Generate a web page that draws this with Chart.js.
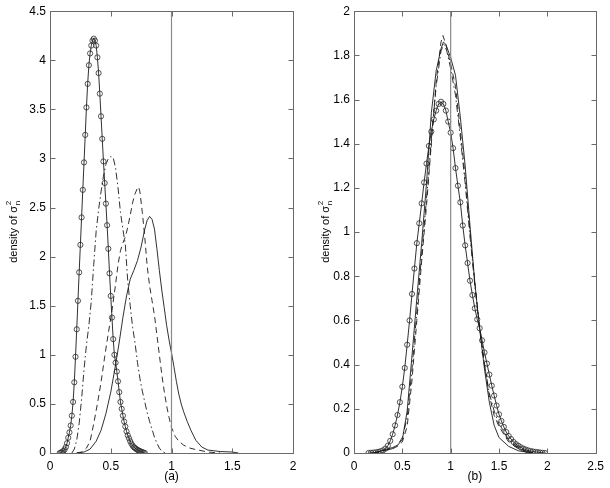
<!DOCTYPE html>
<html>
<head>
<meta charset="utf-8">
<script src="https://cdn.jsdelivr.net/npm/chart.js@4.4.1/dist/chart.umd.min.js"></script>
<style>
html, body { margin: 0; padding: 0; background: #fff; }
#wrap { position: relative; width: 610px; height: 488px; }
.panel { position: absolute; top: 0; width: 305px; height: 488px; }
</style>
</head>
<body>
<div id="wrap">
  <div class="panel" style="left:0"><canvas id="chartA" width="305" height="488"></canvas></div>
  <div class="panel" style="left:305px"><canvas id="chartB" width="305" height="488"></canvas></div>
</div>
<script>
// ---- PANEL (a) DATA ----
var aCircX = [
  0.08, 0.09, 0.10, 0.11, 0.12, 0.13, 0.14, 0.15, 0.16, 0.17,
  0.18, 0.19, 0.20, 0.21, 0.22, 0.23, 0.24, 0.25, 0.26, 0.27,
  0.28, 0.29, 0.30, 0.31, 0.32, 0.33, 0.34, 0.35, 0.36, 0.37,
  0.38, 0.39, 0.40, 0.41, 0.42, 0.43, 0.44, 0.45, 0.46, 0.47,
  0.48, 0.49, 0.50, 0.51, 0.52, 0.53, 0.54, 0.55, 0.56, 0.57,
  0.58, 0.59, 0.60, 0.61, 0.62, 0.63, 0.64, 0.65, 0.66, 0.67,
  0.68, 0.69, 0.70, 0.71, 0.72, 0.73, 0.74, 0.75, 0.76, 0.77,
  0.78
];
var aCircY = [
  0, 0.004, 0.01, 0.02, 0.035, 0.06, 0.1, 0.155, 0.21, 0.28,
  0.38, 0.52, 0.72, 0.98, 1.26, 1.55, 1.84, 2.12, 2.4, 2.68,
  2.96, 3.24, 3.52, 3.76, 3.95, 4.07, 4.15, 4.2, 4.22, 4.2,
  4.15, 4.03, 3.87, 3.66, 3.43, 3.2, 2.97, 2.75, 2.54, 2.32,
  2.08, 1.83, 1.6, 1.38, 1.16, 1.0, 0.92, 0.83, 0.73, 0.62,
  0.52, 0.45, 0.38, 0.32, 0.27, 0.22, 0.18, 0.15, 0.12, 0.095,
  0.075, 0.06, 0.05, 0.04, 0.032, 0.025, 0.02, 0.013, 0.008, 0.004,
  0
];
var aDashDotX = [0.18, 0.20, 0.22, 0.24, 0.26, 0.28, 0.30, 0.32, 0.34, 0.36, 0.38, 0.40, 0.42, 0.44, 0.46, 0.48, 0.50, 0.52,
  0.54, 0.56, 0.58, 0.60, 0.62, 0.64, 0.66, 0.68, 0.70, 0.72, 0.74, 0.76, 0.78, 0.80, 0.82, 0.84, 0.86, 0.88, 0.90, 0.92, 0.95];
var aDashDotY = [0, 0.04, 0.13, 0.3, 0.55, 0.85, 1.1, 1.3, 1.55, 1.92, 2.26, 2.48, 2.66, 2.82, 2.94, 3.0, 3.02, 3.01,
  2.9, 2.7, 2.45, 2.28, 2.12, 1.75, 1.5, 1.28, 1.12, 0.92, 0.76, 0.63, 0.52, 0.41, 0.32, 0.24, 0.16, 0.1, 0.05, 0.02, 0];
var aDashX = [0.22, 0.26, 0.30, 0.33, 0.36, 0.39, 0.42, 0.45, 0.48, 0.51, 0.54, 0.56, 0.58, 0.60, 0.62, 0.64, 0.66, 0.68, 0.70, 0.72, 0.73,
  0.74, 0.76, 0.78, 0.80, 0.82, 0.84, 0.86, 0.88, 0.90, 0.92, 0.94, 0.96, 0.98, 1.00, 1.03, 1.06, 1.10, 1.15, 1.20, 1.30, 1.40];
var aDashY = [0, 0.01, 0.05, 0.12, 0.3, 0.5, 0.72, 0.98, 1.22, 1.45, 1.72, 1.92, 2.06, 2.14, 2.2, 2.3, 2.42, 2.55, 2.64, 2.7, 2.71,
  2.66, 2.45, 2.2, 1.9, 1.7, 1.55, 1.4, 1.2, 1.0, 0.8, 0.63, 0.48, 0.36, 0.26, 0.17, 0.12, 0.08, 0.05, 0.035, 0.01, 0];
var aSolidX = [0.22, 0.28, 0.33, 0.38, 0.42, 0.46, 0.50, 0.54, 0.57, 0.60, 0.63, 0.66, 0.69, 0.72, 0.75, 0.78, 0.80, 0.82, 0.84, 0.86,
  0.88, 0.90, 0.92, 0.94, 0.96, 0.98, 1.00, 1.02, 1.04, 1.06, 1.08, 1.10, 1.13, 1.16, 1.20, 1.25, 1.30, 1.40, 1.50, 1.55];
var aSolidY = [0, 0.01, 0.04, 0.12, 0.23, 0.4, 0.62, 0.9, 1.13, 1.38, 1.6, 1.77, 1.86, 1.96, 2.1, 2.28, 2.37, 2.41, 2.38, 2.28,
  2.08, 1.86, 1.66, 1.48, 1.3, 1.15, 1.02, 0.88, 0.73, 0.6, 0.5, 0.42, 0.32, 0.23, 0.13, 0.06, 0.03, 0.015, 0.01, 0];
var aXTicks = { min: 0, max: 2, step: 0.5 };
var aYTicks = { min: 0, max: 4.5, step: 0.5 };

// ---- PANEL (b) DATA ----
var bCircX = [
  0.150, 0.175, 0.200, 0.225, 0.250, 0.275, 0.300, 0.325, 0.350, 0.375,
  0.400, 0.425, 0.450, 0.475, 0.500, 0.525, 0.550, 0.575, 0.600, 0.625,
  0.650, 0.675, 0.700, 0.725, 0.750, 0.775, 0.800, 0.825, 0.850, 0.875,
  0.900, 0.925, 0.950, 0.975, 1.000, 1.025, 1.050, 1.075, 1.100, 1.125,
  1.150, 1.175, 1.200, 1.225, 1.250, 1.275, 1.300, 1.325, 1.350, 1.375,
  1.400, 1.425, 1.450, 1.475, 1.500, 1.525, 1.550, 1.575, 1.600, 1.625,
  1.650, 1.675, 1.700, 1.725, 1.750, 1.775, 1.800, 1.825, 1.850, 1.875,
  1.900, 1.925, 1.950, 1.975
];
var bCircY = [
  0, 0.001, 0.002, 0.003, 0.005, 0.008, 0.012, 0.02, 0.033, 0.055,
  0.085, 0.125, 0.172, 0.23, 0.3, 0.385, 0.49, 0.6, 0.72, 0.835,
  0.95, 1.04, 1.13, 1.225, 1.31, 1.39, 1.455, 1.51, 1.55, 1.58,
  1.59, 1.58, 1.55, 1.5, 1.45, 1.38, 1.29, 1.21, 1.135, 1.03,
  0.94, 0.86, 0.78, 0.715, 0.655, 0.605, 0.565, 0.51, 0.455, 0.405,
  0.355, 0.305, 0.26, 0.215, 0.175, 0.145, 0.118, 0.095, 0.077, 0.063,
  0.05, 0.04, 0.033, 0.026, 0.02, 0.016, 0.012, 0.009, 0.007, 0.005,
  0.004, 0.002, 0.001, 0
];
var bSolidX = [0.2, 0.3, 0.4, 0.45, 0.5, 0.55, 0.6, 0.65, 0.7, 0.75, 0.8, 0.85, 0.9, 0.925, 0.95, 1.0, 1.05, 1.1, 1.15,
  1.2, 1.25, 1.3, 1.35, 1.4, 1.45, 1.5, 1.6, 1.7, 1.85];
var bSolidY = [0, 0.012, 0.025, 0.035, 0.06, 0.19, 0.44, 0.7, 0.95, 1.22, 1.54, 1.73, 1.83, 1.86, 1.85, 1.79, 1.71, 1.52, 1.3,
  1.03, 0.77, 0.56, 0.38, 0.23, 0.125, 0.07, 0.03, 0.01, 0];
var bDashX = [0.2, 0.3, 0.4, 0.45, 0.5, 0.55, 0.6, 0.65, 0.7, 0.75, 0.8, 0.85, 0.9, 0.92, 0.95, 1.0, 1.05, 1.1, 1.15,
  1.2, 1.25, 1.3, 1.35, 1.4, 1.45, 1.5, 1.6, 1.7, 1.85];
var bDashY = [0, 0.01, 0.02, 0.03, 0.05, 0.12, 0.33, 0.6, 0.87, 1.12, 1.4, 1.68, 1.86, 1.89, 1.85, 1.76, 1.66, 1.46, 1.25,
  1.0, 0.77, 0.57, 0.4, 0.26, 0.17, 0.12, 0.05, 0.02, 0];
var bDashDotX = [0.2, 0.3, 0.4, 0.45, 0.5, 0.55, 0.6, 0.65, 0.7, 0.75, 0.8, 0.85, 0.9, 0.93, 0.96, 1.0, 1.05, 1.1, 1.15,
  1.2, 1.25, 1.3, 1.35, 1.4, 1.45, 1.5, 1.6, 1.7, 1.85];
var bDashDotY = [0, 0.008, 0.02, 0.035, 0.07, 0.16, 0.38, 0.64, 0.9, 1.15, 1.42, 1.66, 1.82, 1.85, 1.82, 1.74, 1.62, 1.43, 1.22,
  0.98, 0.76, 0.56, 0.4, 0.27, 0.19, 0.13, 0.06, 0.025, 0];
var bXTicks = { min: 0, max: 2.5, step: 0.5 };
var bYTicks = { min: 0, max: 2, step: 0.2 };

var refX = 1;
var FONT = "'Liberation Sans', Arial, Helvetica, sans-serif";

function pts(xs, ys) {
  return xs.map(function (x, i) { return { x: x, y: ys[i] }; });
}

function fmt(v) {
  return String(+Number(v).toFixed(2));
}

// box frame, inward ticks and the y label with sub/superscript
var framePlugin = {
  id: 'frame',
  afterDatasetsDraw: function (chart, args, opts) {
    var ctx = chart.ctx, a = chart.chartArea;
    var xs = chart.scales.x, ys = chart.scales.y;
    var L = Math.round(a.left) + 0.5, R = Math.round(a.right) + 0.5;
    var T = Math.round(a.top) + 0.5, B = Math.round(a.bottom) + 0.5;
    ctx.save();
    ctx.strokeStyle = '#6a6a6a';
    ctx.lineWidth = 1;
    ctx.strokeRect(L, T, R - L, B - T);
    ctx.beginPath();
    xs.ticks.forEach(function (t) {
      var p = Math.round(xs.getPixelForValue(t.value)) + 0.5;
      ctx.moveTo(p, B); ctx.lineTo(p, B - 5);
      ctx.moveTo(p, T); ctx.lineTo(p, T + 5);
    });
    ys.ticks.forEach(function (t) {
      var p = Math.round(ys.getPixelForValue(t.value)) + 0.5;
      ctx.moveTo(L, p); ctx.lineTo(L + 5, p);
      ctx.moveTo(R, p); ctx.lineTo(R - 5, p);
    });
    ctx.stroke();

    // y title
    var main = 'density of \u03c3';
    ctx.fillStyle = '#000';
    ctx.font = '11px ' + FONT;
    var w1 = ctx.measureText(main).width;
    ctx.font = '8px ' + FONT;
    var w2 = ctx.measureText('n').width;
    var cy = (a.top + a.bottom) / 2;
    ctx.translate(opts.labelX, cy);
    ctx.rotate(-Math.PI / 2);
    ctx.textBaseline = 'alphabetic';
    ctx.textAlign = 'left';
    var x0 = -(w1 + w2) / 2;
    ctx.font = '11px ' + FONT;
    ctx.fillText(main, x0, 0);
    ctx.font = '8px ' + FONT;
    ctx.fillText('2', x0 + w1 + 0.5, -6);
    ctx.fillText('n', x0 + w1 + 0.5, 3);
    ctx.restore();
  }
};

function lineSet(data, dash) {
  return {
    data: data,
    showLine: true,
    borderColor: '#1a1a1a',
    borderWidth: 0.9,
    borderDash: dash,
    pointRadius: 0,
    tension: 0
  };
}

function circSet(data) {
  return {
    data: data,
    showLine: true,
    borderColor: '#1a1a1a',
    borderWidth: 0.9,
    pointRadius: 2.6,
    pointStyle: 'circle',
    pointBackgroundColor: 'rgba(0,0,0,0)',
    pointBorderColor: '#2a2a2a',
    pointBorderWidth: 0.8,
    tension: 0
  };
}

function refSet(yMax) {
  return {
    data: [{ x: refX, y: 0 }, { x: refX, y: yMax }],
    showLine: true,
    borderColor: '#8a8a8a',
    borderWidth: 1.2,
    pointRadius: 0
  };
}

function makeOptions(xt, yt, tag, yWidth, labelX) {
  return {
    responsive: false,
    animation: false,
    events: [],
    layout: { padding: { left: 0, right: 12, top: 8, bottom: 0 } },
    plugins: {
      legend: { display: false },
      tooltip: { enabled: false },
      frame: { labelX: labelX }
    },
    scales: {
      x: {
        type: 'linear',
        min: xt.min, max: xt.max,
        grid: { display: false, drawTicks: false },
        border: { display: false },
        ticks: {
          stepSize: xt.step, autoSkip: false, maxRotation: 0, padding: 6,
          color: '#000', font: { family: FONT, size: 12 }, callback: fmt
        },
        title: {
          display: true, text: tag, color: '#000',
          font: { family: FONT, size: 12 }, padding: { top: 0, bottom: 4 }
        },
        afterFit: function (s) { s.height = 35; }
      },
      y: {
        type: 'linear',
        min: yt.min, max: yt.max,
        grid: { display: false, drawTicks: false },
        border: { display: false },
        ticks: {
          stepSize: yt.step, autoSkip: false, padding: 4,
          color: '#000', font: { family: FONT, size: 12 }, callback: fmt
        },
        afterFit: function (s) { s.width = yWidth; }
      }
    }
  };
}

// PANEL (a)
var chartA = new Chart(document.getElementById('chartA'), {
  type: 'scatter',
  data: {
    datasets: [
      refSet(aYTicks.max),
      lineSet(pts(aDashDotX, aDashDotY), [7, 3, 1.5, 3]),
      lineSet(pts(aDashX, aDashY), [6, 4]),
      lineSet(pts(aSolidX, aSolidY), []),
      circSet(pts(aCircX, aCircY))
    ]
  },
  options: makeOptions(aXTicks, aYTicks, '(a)', 50, 17),
  plugins: [framePlugin]
});

// PANEL (b)
var chartB = new Chart(document.getElementById('chartB'), {
  type: 'scatter',
  data: {
    datasets: [
      refSet(bYTicks.max),
      lineSet(pts(bDashDotX, bDashDotY), [7, 3, 1.5, 3]),
      lineSet(pts(bDashX, bDashY), [6, 4]),
      lineSet(pts(bSolidX, bSolidY), []),
      circSet(pts(bCircX, bCircY))
    ]
  },
  options: makeOptions(bXTicks, bYTicks, '(b)', 49, 24),
  plugins: [framePlugin]
});
</script>
</body>
</html>
